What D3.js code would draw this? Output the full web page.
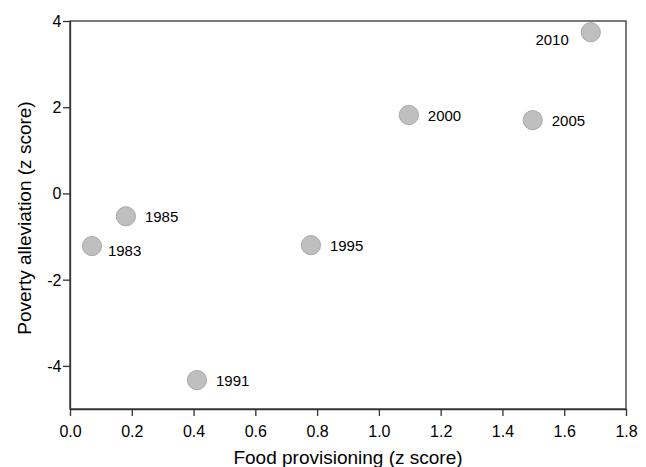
<!DOCTYPE html>
<html>
<head>
<meta charset="utf-8">
<script src="https://cdn.jsdelivr.net/npm/d3@7"></script>
<style>
  body { margin: 0; background: #fff; }
  text { font-family: "Liberation Sans", Arial, sans-serif; fill: #000; }
</style>
</head>
<body>
<div id="plot"></div>
<script>
// data
const years = ["1983", "1985", "1991", "1995", "2000", "2005", "2010"];
const foodZ = [0.071, 0.181, 0.411, 0.78, 1.097, 1.498, 1.686];
const povertyZ = [-1.22, -0.53, -4.33, -1.20, 1.82, 1.70, 3.74];
const xTicks = [0, 0.2, 0.4, 0.6, 0.8, 1.0, 1.2, 1.4, 1.6, 1.8];
const yTicks = [-4, -2, 0, 2, 4];

const W = 646, H = 467;
const margin = { top: 21, right: 20, bottom: 58, left: 70 },
      width = W - margin.left - margin.right,
      height = H - margin.top - margin.bottom;

const svg = d3.select("div#plot")
  .append("svg")
  .attr("width", W)
  .attr("height", H);

const g = svg.append("g")
  .attr("transform", `translate(${margin.left},${margin.top})`);

const xScale = d3.scaleLinear().domain([0, 1.8]).range([0, width]);
const yScale = d3.scaleLinear().domain([-5, 4]).range([height, 0]);

// frame
g.append("rect")
  .attr("width", width)
  .attr("height", height)
  .attr("fill", "none")
  .attr("stroke", "#333")
  .attr("stroke-width", 1.3);

const xAxis = g.append("g")
  .attr("transform", `translate(0,${height})`)
  .call(d3.axisBottom(xScale).tickValues(xTicks).tickFormat(d3.format(".1f")).tickSize(7).tickSizeOuter(0));

const yAxis = g.append("g")
  .call(d3.axisLeft(yScale).tickValues(yTicks).tickFormat(d => String(d)).tickSize(7).tickSizeOuter(0));

[xAxis, yAxis].forEach(a => {
  a.attr("font-size", null);
  a.select(".domain").attr("stroke", "#333").attr("stroke-width", 1.3);
  a.selectAll(".tick line").attr("stroke", "#333").attr("stroke-width", 1.3);
  a.selectAll(".tick text")
    .style("font-size", "16px")
    .style("font-family", "'Liberation Sans', Arial, sans-serif");
});
xAxis.selectAll(".tick text").attr("dy", null).attr("y", 27.5);
yAxis.selectAll(".tick text").attr("x", -8.5).attr("dy", "0.34em");

// axis titles
g.append("text")
  .attr("x", width / 2)
  .attr("y", height + 54.5)
  .attr("text-anchor", "middle")
  .style("font-size", "19px")
  .text("Food provisioning (z score)");

g.append("text")
  .attr("transform", "rotate(-90)")
  .attr("x", -height / 2 - 3)
  .attr("y", -margin.left + 31)
  .attr("text-anchor", "middle")
  .style("font-size", "19px")
  .text("Poverty alleviation (z score)");

const pts = years.map((y, i) => ({ year: y, x: foodZ[i], y: povertyZ[i] }));

g.selectAll(".dot")
  .data(pts)
  .enter()
  .append("circle")
  .attr("class", "dot")
  .attr("cx", d => xScale(d.x))
  .attr("cy", d => yScale(d.y))
  .attr("r", 9.6)
  .style("fill", "#bfbfbf")
  .style("stroke", "#a9a9a9")
  .style("stroke-width", 1);

// label placement: right of the point, 2010 sits to its left
g.selectAll(".lbl")
  .data(pts)
  .enter()
  .append("text")
  .attr("class", "lbl")
  .attr("x", d => d.year === "2010" ? xScale(d.x) - 22 : xScale(d.x) + (d.year === "1983" ? 16 : 19))
  .attr("y", d => yScale(d.y) + (d.year === "2010" ? 13 : d.year === "1983" ? 10 : 6))
  .attr("text-anchor", d => d.year === "2010" ? "end" : "start")
  .style("font-size", "15px")
  .text(d => d.year);
</script>
</body>
</html>
